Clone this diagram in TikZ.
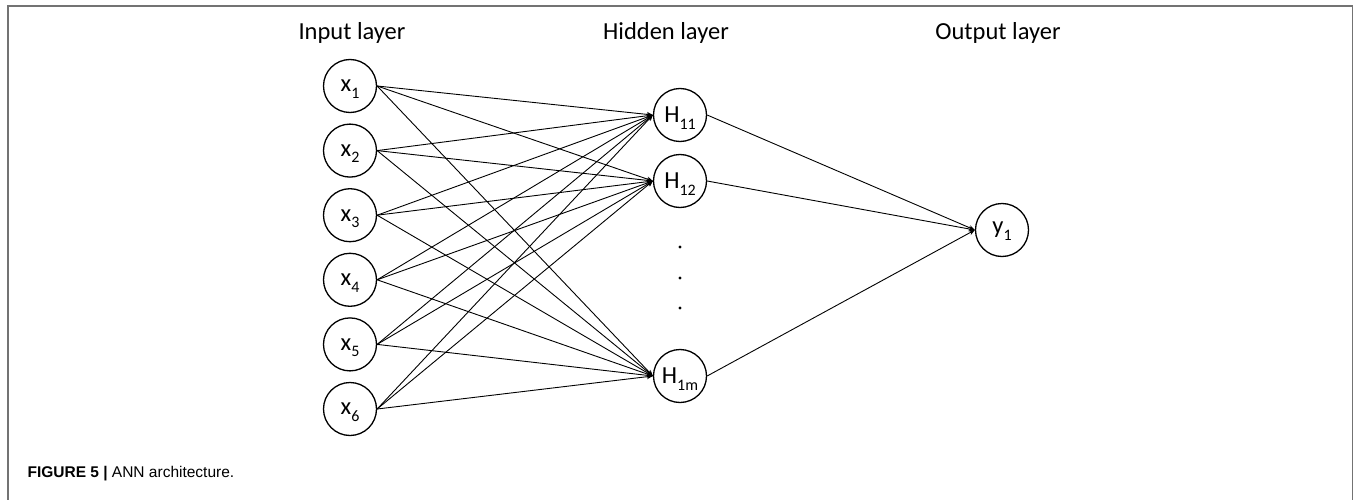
\documentclass[tikz,border=0pt]{standalone}
\usepackage{fontspec}
\setmainfont{Carlito}
\newfontfamily\captionfont{Liberation Sans}
\usepackage{tikz}
\usetikzlibrary{arrows.meta}

\newcommand{\lsub}[1]{\raisebox{-6.5pt}[0pt][0pt]{\fontsize{16}{16}\selectfont #1}}

\begin{document}
\begin{tikzpicture}[
                x=1pt, y=-1pt,
                neuron/.style={draw=black, circle, line width=1.3pt, minimum size=53pt, inner sep=0pt, font=\fontsize{24.5}{28}\selectfont},
                layertitle/.style={anchor=base, font=\fontsize{24.5}{28}\selectfont},
                link/.style={draw=black, line width=0.9pt, -{Stealth[length=6pt, width=5pt]}},
                frame/.style={draw=black!55, line width=1.5pt}
            ]
            \useasboundingbox (0,0) rectangle (1354,500);
            \draw[frame] (8,500) -- (8,6) -- (1352.5,6) -- (1352.5,500);

            % layer titles
            \node[layertitle] (tin) at (352,40) {Input layer};
            \node[layertitle] (thid) at (666,40) {Hidden layer};
            \node[layertitle] (tout) at (998,40) {Output layer};

            % input layer
            \foreach \i in {1,...,6}
                \node[neuron] (in\i) at (350,{86+64.6*(\i-1)}) {x\lsub{\i}};

            % hidden layer
            \node[neuron] (h1) at (680,115) {H\lsub{11}};
            \node[neuron] (h2) at (680,181) {H\lsub{12}};
            \node[neuron] (hm) at (680,376) {H\lsub{1m}};
            \foreach \y in {247,278,308}
                \fill (680,\y) circle (1.6);

            % output layer
            \node[neuron] (out) at (1002,230) {y\lsub{1}};

            % connections
            \foreach \i in {1,...,6}
                \foreach \h in {h1,h2,hm}
                    \draw[link] (in\i.east) -- (\h.west);
            \foreach \h in {h1,h2,hm}
                \draw[link] (\h.east) -- (out.west);

            % caption
            \node[anchor=base west, font=\captionfont\fontsize{15.5}{18}\selectfont] (cap) at (24,477) {\textbf{FIGURE 5 |} ANN architecture.};
        \end{tikzpicture}
\end{document}
